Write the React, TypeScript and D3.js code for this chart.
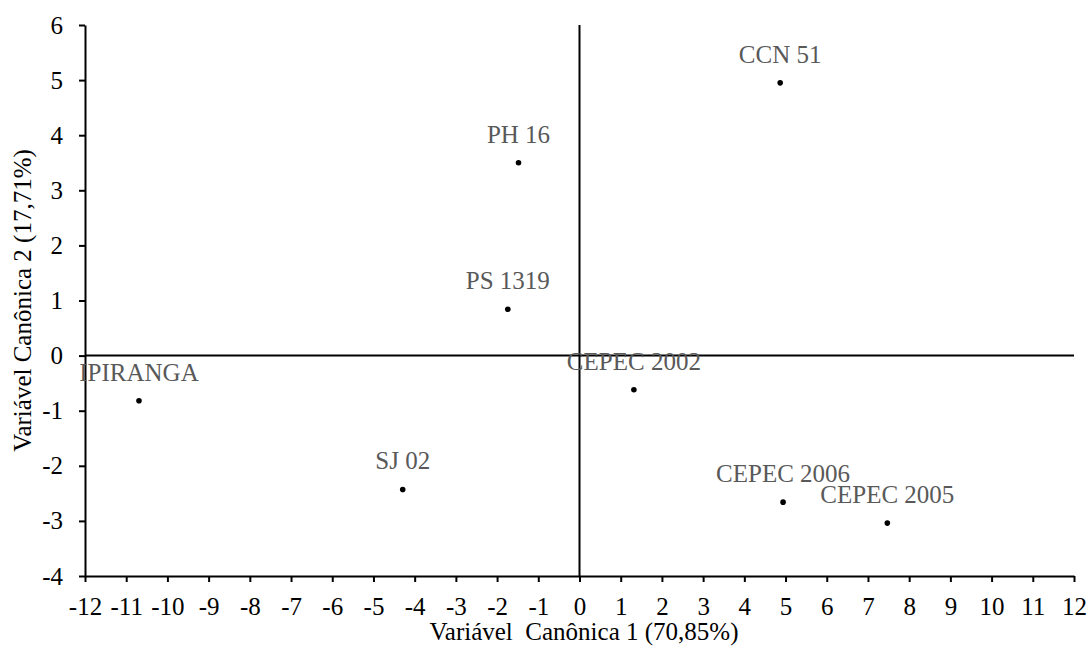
import React, { useEffect, useRef } from 'react'
import * as d3 from 'd3'

const names = ['IPIRANGA', 'SJ 02', 'PS 1319', 'PH 16', 'CCN 51', 'CEPEC 2002', 'CEPEC 2006', 'CEPEC 2005']
const xs = [-10.69, -4.29, -1.74, -1.48, 4.87, 1.32, 4.94, 7.47]
const ys = [-0.82, -2.43, 0.84, 3.5, 4.95, -0.62, -2.66, -3.04]
const xTicks = d3.range(-12, 13)
const yTicks = d3.range(-4, 7)
const xTitle = 'Variável  Canônica 1 (70,85%)'
const yTitle = 'Variável Canônica 2 (17,71%)'

const font = 'Liberation Serif, Tinos, DejaVu Serif, serif'
const fs = 25

export default function App() {
    const svgRef = useRef<SVGSVGElement>(null)

    const width = 1090
    const height = 654

    useEffect(() => {
        const svg = d3.select(svgRef.current)
        svg.selectAll('*').remove()

        const x = d3.scaleLinear().domain([-12, 12]).range([85, 1074])
        const y = d3.scaleLinear().domain([-4, 6]).range([576, 25])

        // axes
        const gx = svg.append('g')
            .attr('transform', `translate(0,${y(-4)})`)
            .call(d3.axisBottom(x).tickValues(xTicks).tickSize(6).tickSizeOuter(0).tickPadding(15).tickFormat((d) => String(d)))
        const gy = svg.append('g')
            .attr('transform', `translate(${x(-12)},0)`)
            .call(d3.axisLeft(y).tickValues(yTicks).tickSize(6).tickSizeOuter(0).tickPadding(16).tickFormat((d) => String(d)))

        for (const g of [gx, gy]) {
            g.attr('font-family', font).attr('font-size', fs)
            g.selectAll('path, line').attr('stroke', '#000').attr('stroke-width', 2)
            g.selectAll('text').attr('fill', '#000')
        }

        // zero lines
        svg.append('line')
            .attr('x1', x(-12)).attr('x2', x(12))
            .attr('y1', y(0)).attr('y2', y(0))
            .attr('stroke', '#000').attr('stroke-width', 2)
        svg.append('line')
            .attr('x1', x(0)).attr('x2', x(0))
            .attr('y1', y(-4)).attr('y2', y(6))
            .attr('stroke', '#000').attr('stroke-width', 2)

        // points + labels
        const pts = svg.append('g')
            .attr('font-family', font)
            .attr('font-size', fs)
            .selectAll('g')
            .data(names.map((n, i) => ({ n, x: xs[i], y: ys[i] })))
            .enter()
            .append('g')

        pts.append('circle')
            .attr('cx', (d) => x(d.x))
            .attr('cy', (d) => y(d.y))
            .attr('r', 2.8)
            .attr('fill', '#000')

        pts.append('text')
            .attr('x', (d) => x(d.x))
            .attr('y', (d) => y(d.y) - 20)
            .attr('text-anchor', 'middle')
            .attr('fill', '#595959')
            .text((d) => d.n)

        // titles
        svg.append('text')
            .attr('x', 584)
            .attr('y', 640)
            .attr('text-anchor', 'middle')
            .attr('fill', '#000')
            .attr('font-family', font)
            .attr('font-size', fs)
            .style('white-space', 'pre')
            .text(xTitle)

        svg.append('text')
            .attr('transform', `translate(31,${(y(-4) + y(6)) / 2}) rotate(-90)`)
            .attr('text-anchor', 'middle')
            .attr('fill', '#000')
            .attr('font-family', font)
            .attr('font-size', fs)
            .text(yTitle)
    }, [])

    return (
        <svg
            ref={svgRef}
            width={width}
            height={height}
            style={{ position: 'absolute', left: 0, top: 0, background: '#fff' }}
        />
    )
}
